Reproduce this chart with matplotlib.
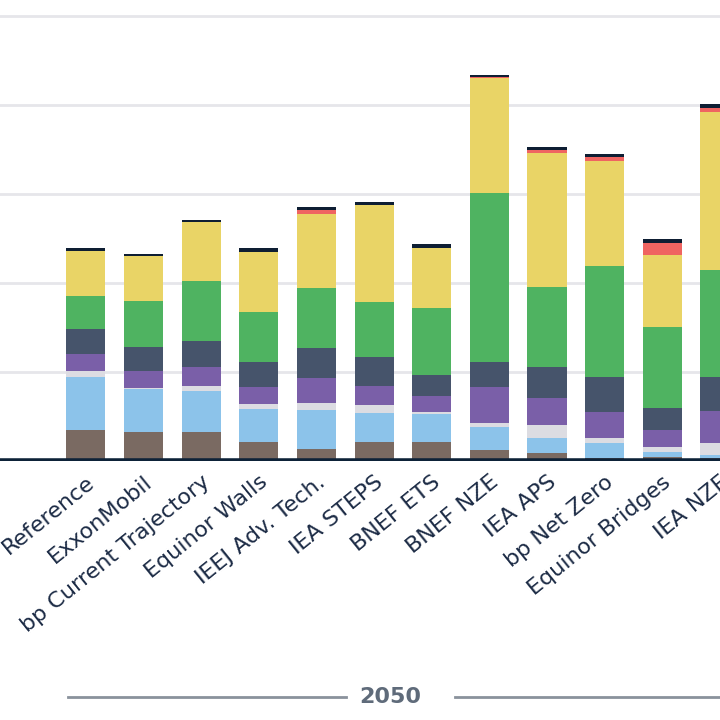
import matplotlib

matplotlib.use("Agg")
import matplotlib.pyplot as plt
import numpy as np

scenarios = [
    "Reference", "ExxonMobil", "bp Current Trajectory", "Equinor Walls",
    "IEEJ Adv. Tech.", "IEA STEPS", "BNEF ETS", "BNEF NZE", "IEA APS",
    "bp Net Zero", "Equinor Bridges", "IEA NZE",
]
# stacked segments, bottom to top
brown = [31, 29, 29, 19, 12, 19, 19, 11, 8, 3, 4, 3]
light_blue = [53, 43, 41, 33, 39, 29, 28, 23, 15, 15, 5, 3]
light_gray = [6, 1, 5, 5, 7, 8, 2, 4, 13, 5, 5, 12]
purple = [17, 17, 19, 17, 25, 19, 16, 36, 27, 26, 17, 32]
slate = [25, 24, 26, 25, 30, 29, 21, 25, 31, 35, 22, 34]
green = [33, 46, 60, 50, 60, 55, 67, 169, 80, 111, 81, 107]
yellow = [45, 45, 59, 60, 74, 97, 60, 115, 134, 105, 72, 158]
red = [0, 0, 0, 0, 4, 0, 0, 1, 3, 4, 12, 4]
black = [3, 2, 2, 4, 3, 3, 4, 2, 3, 3, 4, 4]

series = [
    (brown, "#7a6a62"),
    (light_blue, "#8cc3ea"),
    (light_gray, "#dcdce2"),
    (purple, "#7a5fa8"),
    (slate, "#46546b"),
    (green, "#4fb361"),
    (yellow, "#e9d466"),
    (red, "#ef6461"),
    (black, "#0e1e33"),
]

fig = plt.figure(figsize=(7.2, 7.2), dpi=100)
ax = fig.add_axes([0, 0.36, 1, 0.64])
x = np.arange(len(scenarios))
bottom = np.zeros(len(scenarios))
for values, color in series:
    ax.bar(x, values, bottom=bottom, width=0.68, color=color, zorder=3)
    bottom += np.array(values)

ax.set_xlim(-1.49, 10.84)
ax.set_ylim(0, 461)
for gy in range(89, 461, 89):
    ax.axhline(gy, color="#e6e6ea", lw=2, zorder=1)
ax.axhline(0, color="#0d2238", lw=4, zorder=4)
for s in ax.spines.values():
    s.set_visible(False)
ax.set_yticks([])
ax.set_xticks(x)
ax.set_xticklabels(scenarios, rotation=39, ha="right", rotation_mode="anchor",
                   fontsize=16, color="#1c2b45")
ax.tick_params(axis="x", length=0, pad=8)

fig.text(0.542, 0.032, "2050", ha="center", va="center", fontsize=16,
         fontweight="bold", color="#5f6b7a")
fig.add_artist(plt.Line2D([0.094, 0.48], [0.032, 0.032], color="#8a929c", lw=2))
fig.add_artist(plt.Line2D([0.632, 1.0], [0.032, 0.032], color="#8a929c", lw=2))

fig.savefig("out.png", dpi=100)
